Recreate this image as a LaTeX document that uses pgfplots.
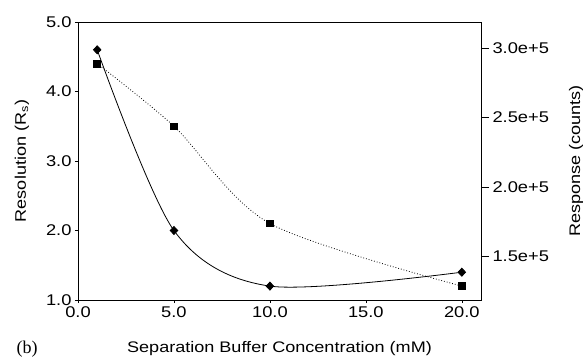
\documentclass[border=0pt]{standalone}
\usepackage{pgfplots}
\pgfplotsset{compat=1.18}
\usepackage{fontspec}
\setmainfont{Liberation Sans}
\newfontfamily\widefont{Liberation Sans}[FakeStretch=1.18]
\newfontfamily\seriffont{Liberation Serif}
\pgfplotsset{
  every tick label/.append style={font=\widefont\fontsize{15.5}{18}\selectfont},
  every axis label/.append style={font=\widefont\fontsize{15.3}{18}\selectfont},
}
\begin{document}
\begin{tikzpicture}
\useasboundingbox (-78pt,-56pt) rectangle (505pt,300pt);
\begin{axis}[
  at={(0,0)}, anchor=south west,
  scale only axis, width=403pt, height=278pt,
  xmin=0, xmax=21, ymin=1, ymax=5,
  axis line style={line width=0.6pt},
  tick align=outside, major tick length=3pt,
  xtick pos=lower, ytick pos=left,
  xtick={0,5,10,15,20}, xticklabels={0.0,5.0,10.0,15.0,20.0},
  ytick={1,2,3,4,5}, yticklabels={1.0,2.0,3.0,4.0,5.0},
  tick style={black, line width=0.6pt},
  xlabel={Separation Buffer Concentration (mM)},
  xlabel style={at={(axis description cs:0.5,0)}, anchor=base, yshift=-52pt},
  ylabel={Resolution (R\textsubscript{s})},
  ylabel style={at={(axis description cs:-0.139,0.5)}, anchor=center},
]
\addplot[black, line width=0.8pt, smooth, mark=diamond*, mark size=4pt, mark options={solid, xscale=1.25}]
  coordinates {(1,4.6) (5,2.0) (10,1.2) (20,1.4)};
\end{axis}
\begin{axis}[
  at={(0,0)}, anchor=south west,
  scale only axis, width=403pt, height=278pt,
  xmin=0, xmax=21, ymin=118700, ymax=318700,
  axis x line=none, axis y line*=right,
  axis line style={line width=0.6pt},
  tick align=outside, major tick length=8pt,
  tick style={black, line width=0.6pt},
  scaled y ticks=false,
  ytick={150000,200000,250000,300000},
  yticklabels={1.5e+5,2.0e+5,2.5e+5,3.0e+5},
  ylabel={Response (counts)},
  ylabel style={at={(axis description cs:1.236,0.5)}, anchor=center},
]
\addplot[black, line width=0.8pt, dotted, smooth, mark=square*, mark size=3.3pt, mark options={solid}]
  coordinates {(1,288700) (5,243700) (10,173700) (20,128700)};
\end{axis}
\node[anchor=base west, font=\seriffont\fontsize{18}{20}\selectfont] at (-65pt,-53pt) {(b)};
\end{tikzpicture}
\end{document}
